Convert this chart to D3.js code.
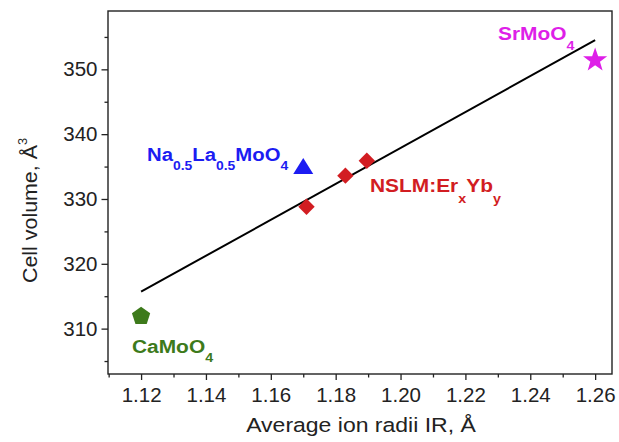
<!DOCTYPE html>
<html><head><meta charset="utf-8">
<script src="https://cdn.jsdelivr.net/npm/d3@7"></script>
<style>
html,body{margin:0;padding:0;background:#fff;}
svg{display:block;font-family:"Liberation Sans",Arial,Helvetica,sans-serif;}
</style></head>
<body>
<svg id="chart" width="619" height="442"></svg>
<script>
// ---- data ----
const compounds = ["CaMoO4", "Na0.5La0.5MoO4", "SrMoO4"];
const compoundIR = [1.12, 1.17, 1.26];
const compoundV = [311.9, 335.1, 351.4];
const nslmIR = [1.171, 1.183, 1.1896];
const nslmV = [328.8, 333.6, 335.9];
const fitIR = [1.12, 1.26];
const fitV = [315.7, 354.5];
const xTicks = [1.12, 1.14, 1.16, 1.18, 1.20, 1.22, 1.24, 1.26];
const xMinor = [1.11, 1.13, 1.15, 1.17, 1.19, 1.21, 1.23, 1.25];
const yTicks = [310, 320, 330, 340, 350];
const yMinor = [305, 315, 325, 335, 345, 355];

const svg = d3.select("#chart");
const L = 108, R = 612, T = 11, B = 374;
const x = d3.scaleLinear().domain([1.1098, 1.2652]).range([L, R]);
const y = d3.scaleLinear().domain([303, 359]).range([B, T]);
const axisColor = "#222";

// frame
svg.append("rect").attr("x", L).attr("y", T).attr("width", R - L).attr("height", B - T)
  .attr("fill", "none").attr("stroke", axisColor).attr("stroke-width", 1.4);

// x axis
const xAxis = svg.append("g").attr("transform", `translate(0,${B})`)
  .call(d3.axisBottom(x).tickValues(xTicks).tickFormat(d3.format(".2f")).tickSize(6).tickPadding(7));
const xMin = svg.append("g").attr("transform", `translate(0,${B})`)
  .call(d3.axisBottom(x).tickValues(xMinor).tickFormat("").tickSize(3.5));
// y axis
const yAxis = svg.append("g").attr("transform", `translate(${L},0)`)
  .call(d3.axisLeft(y).tickValues(yTicks).tickSize(6.5).tickPadding(4));
const yMin = svg.append("g").attr("transform", `translate(${L},0)`)
  .call(d3.axisLeft(y).tickValues(yMinor).tickFormat("").tickSize(3.5));
[xAxis, xMin, yAxis, yMin].forEach(g => {
  g.select(".domain").remove();
  g.selectAll("line").attr("stroke", axisColor).attr("stroke-width", 1.3);
  g.selectAll("text").attr("font-size", 20.5).attr("fill", "#222")
    .attr("font-family", "'Liberation Sans',Arial,sans-serif");
});

// axis titles
svg.append("text").attr("transform", "translate(361,432) scale(1.18,1)").attr("text-anchor", "middle")
  .attr("font-size", 19.5).attr("fill", "#222")
  .text("Average ion radii IR, Å");
const yt = svg.append("text").attr("transform", "translate(37,283) rotate(-90) scale(1.07,1)")
  .attr("font-size", 20).attr("fill", "#222");
yt.append("tspan").text("Cell volume, Å");
yt.append("tspan").attr("dy", -10).attr("font-size", 12).text("3");

// fit line
svg.append("path")
  .datum(fitIR.map((d, i) => [d, fitV[i]]))
  .attr("d", d3.line().x(d => x(d[0])).y(d => y(d[1])))
  .attr("fill", "none").attr("stroke", "#000").attr("stroke-width", 2);

// symbol generators (centered)
function polyPath(n, r, rot, inner) {
  const pts = [];
  const k = inner ? 2 * n : n;
  for (let i = 0; i < k; i++) {
    const a = rot + i * 2 * Math.PI / k;
    const rr = inner && i % 2 ? r * inner : r;
    pts.push([rr * Math.sin(a), -rr * Math.cos(a)]);
  }
  return "M" + pts.map(p => p[0].toFixed(2) + "," + p[1].toFixed(2)).join("L") + "Z";
}
const colors = { red: "#d21d22", blue: "#1c1cf2", magenta: "#de1fe8", green: "#3d7a1b" };

// NSLM diamonds
svg.selectAll("path.nslm").data(nslmIR).enter().append("path").attr("class", "nslm")
  .attr("transform", (d, i) => `translate(${x(d)},${y(nslmV[i])})`)
  .attr("d", polyPath(4, 8.2, 0)).attr("fill", colors.red);

// CaMoO4 pentagon
svg.append("path").attr("transform", `translate(${x(compoundIR[0])},${y(compoundV[0])})`)
  .attr("d", polyPath(5, 9.6, 0)).attr("fill", colors.green);
// Na0.5La0.5MoO4 triangle (bbox-centered)
svg.append("path").attr("transform", `translate(${x(compoundIR[1])},${y(compoundV[1])})`)
  .attr("d", "M0,-8L10,8L-10,8Z").attr("fill", colors.blue);
// SrMoO4 star
svg.append("path").attr("transform", `translate(${x(compoundIR[2])},${y(compoundV[2])})`)
  .attr("d", polyPath(5, 12.7, 0, 0.4)).attr("fill", colors.magenta);

// labels
function label(px, py, parts, color, sub, subSize, sx) {
  const t = svg.append("text").attr("transform", `translate(${px},${py}) scale(${sx},1)`)
    .attr("font-size", 19).attr("font-weight", "bold").attr("fill", color);
  let down = false;
  parts.forEach(([s, isSub]) => {
    const ts = t.append("tspan").text(s);
    if (isSub && !down) { ts.attr("dy", sub).attr("font-size", subSize); down = true; }
    else if (isSub) { ts.attr("font-size", subSize); }
    else if (!isSub && down) { ts.attr("dy", -sub); down = false; }
  });
}
label(147, 161, [["Na", 0], ["0.5", 1], ["La", 0], ["0.5", 1], ["MoO", 0], ["4", 1]], colors.blue, 8.5, 13, 1.07);
label(370, 192, [["NSLM:Er", 0], ["x", 1], ["Yb", 0], ["y", 1]], colors.red, 10.5, 13, 1.1);
label(498, 40, [["SrMoO", 0], ["4", 1]], colors.magenta, 10, 13, 1.1);
label(132, 353, [["CaMoO", 0], ["4", 1]], colors.green, 8.5, 13, 1.1);
</script>
</body></html>
